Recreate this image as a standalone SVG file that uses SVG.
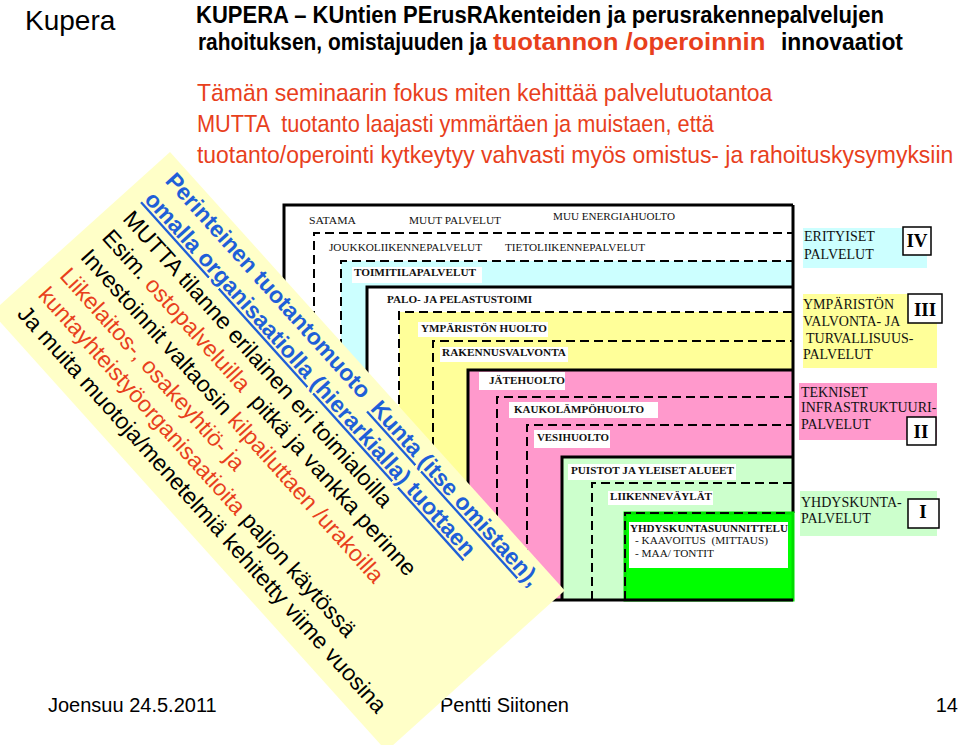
<svg xmlns="http://www.w3.org/2000/svg" width="960" height="745" viewBox="0 0 960 745">
<style>
.solid{fill:none;stroke:#000;stroke-width:3}
.dash{fill:none;stroke:#000;stroke-width:2;stroke-dasharray:9 5}
.lbl{font-family:"Liberation Serif","Times New Roman",serif;font-size:11px;fill:#111}
.b{font-weight:bold}
.wbg{fill:#fff}
.lg{font-family:"Liberation Serif","Times New Roman",serif;font-size:14px;fill:#111}
.rn{font-family:"Liberation Serif","Times New Roman",serif;font-size:19px;font-weight:bold;text-anchor:middle;fill:#000}
.rbox{fill:#fff;stroke:#000;stroke-width:1.5}
.sans{font-family:"Liberation Sans",Arial,Helvetica,sans-serif}
.ttl{font-family:"Liberation Sans",Arial,Helvetica,sans-serif;font-size:24px;font-weight:bold;fill:#000}
.sub{font-family:"Liberation Sans",Arial,Helvetica,sans-serif;font-size:24px;fill:#e8401c}
.bn{font-family:"Liberation Sans",Arial,Helvetica,sans-serif;font-size:23px;fill:#000}
.blue{fill:#1f5fd8;font-weight:bold}
.red{fill:#e8401c}
</style>

<!-- header -->
<g id="header">
<text class="sans" x="25" y="30" font-size="28">Kupera</text>
<text class="ttl" transform="translate(196,23) scale(0.918,1)">KUPERA – KUntien PErusRAkenteiden ja perusrakennepalvelujen</text>
<text class="ttl" transform="translate(198,50) scale(0.87,1)">rahoituksen, omistajuuden ja</text>
<text class="ttl red" transform="translate(493,50) scale(1.07,1)">tuotannon /operoinnin</text>
<text class="ttl" transform="translate(781,50) scale(0.953,1)">innovaatiot</text>
<text class="sub" transform="translate(197,101) scale(0.957,1)">Tämän seminaarin fokus miten kehittää palvelutuotantoa</text>
<text class="sub" transform="translate(197,132) scale(0.9066,1)" xml:space="preserve">MUTTA  tuotanto laajasti ymmärtäen ja muistaen, että</text>
<text class="sub" transform="translate(197,163) scale(0.955,1)">tuotanto/operointi kytkeytyy vahvasti myös omistus- ja rahoituskysymyksiin</text>
</g>

<!-- nested boxes -->
<g id="box-a">
<rect x="284" y="205" width="509" height="395" fill="#fff"/>
<path class="solid" d="M284,600 V205 H793"/>
<text class="lbl" x="309" y="224" textLength="47" lengthAdjust="spacingAndGlyphs">SATAMA</text>
<text class="lbl" x="409" y="224" textLength="92" lengthAdjust="spacingAndGlyphs">MUUT PALVELUT</text>
<text class="lbl" x="553" y="220" textLength="122" lengthAdjust="spacingAndGlyphs">MUU ENERGIAHUOLTO</text>
</g>
<g id="box-b">
<rect x="314" y="233" width="479" height="367" fill="#fff"/>
<path class="dash" d="M314,600 V233 H793"/>
<text class="lbl" x="329" y="251" textLength="153" lengthAdjust="spacingAndGlyphs">JOUKKOLIIKENNEPALVELUT</text>
<text class="lbl" x="505" y="251" textLength="140" lengthAdjust="spacingAndGlyphs">TIETOLIIKENNEPALVELUT</text>
</g>
<g id="box-c">
<rect x="341" y="261" width="452" height="339" fill="#ccffff"/>
<path class="dash" d="M341,600 V261 H793"/>
<rect class="wbg" x="352" y="267" width="130" height="16"/>
<text class="lbl b" x="354" y="276" textLength="122" lengthAdjust="spacingAndGlyphs">TOIMITILAPALVELUT</text>
</g>
<g id="box-d">
<rect x="367" y="287" width="426" height="313" fill="#fff"/>
<path class="solid" d="M367,600 V287 H793"/>
<text class="lbl b" x="387" y="303" textLength="145" lengthAdjust="spacingAndGlyphs">PALO- JA PELASTUSTOIMI</text>
</g>
<g id="box-e">
<rect x="399" y="312" width="394" height="288" fill="#ffff99"/>
<path class="dash" d="M399,600 V312 H793"/>
<rect class="wbg" x="418" y="322" width="130" height="15"/>
<text class="lbl b" x="421" y="332" textLength="126" lengthAdjust="spacingAndGlyphs">YMPÄRISTÖN HUOLTO</text>
</g>
<g id="box-f">
<rect x="433" y="341" width="360" height="259" fill="#ffff99"/>
<path class="dash" d="M433,600 V341 H793"/>
<rect class="wbg" x="440" y="347" width="128" height="15"/>
<text class="lbl b" x="442" y="356" textLength="124" lengthAdjust="spacingAndGlyphs">RAKENNUSVALVONTA</text>
</g>
<g id="box-g">
<rect x="468" y="370" width="325" height="230" fill="#ff99cc"/>
<path class="solid" d="M468,600 V370 H793"/>
<rect class="wbg" x="479" y="372" width="86" height="18"/>
<text class="lbl b" x="489" y="384" textLength="76" lengthAdjust="spacingAndGlyphs">JÄTEHUOLTO</text>
</g>
<g id="box-h">
<rect x="497" y="397" width="296" height="203" fill="#ff99cc"/>
<path class="dash" d="M497,600 V397 H793"/>
<rect class="wbg" x="509" y="402" width="149" height="16"/>
<text class="lbl b" x="514" y="413" textLength="130" lengthAdjust="spacingAndGlyphs">KAUKOLÄMPÖHUOLTO</text>
</g>
<g id="box-i">
<rect x="527" y="425" width="266" height="175" fill="#ff99cc"/>
<path class="dash" d="M527,600 V425 H793"/>
<rect class="wbg" x="534" y="430" width="76" height="18"/>
<text class="lbl b" x="537" y="441" textLength="72" lengthAdjust="spacingAndGlyphs">VESIHUOLTO</text>
</g>
<g id="box-j">
<rect x="562" y="457" width="231" height="143" fill="#ccffcc"/>
<path class="solid" d="M562,600 V457 H793"/>
<rect class="wbg" x="568" y="464" width="168" height="16"/>
<text class="lbl b" x="571" y="474" textLength="163" lengthAdjust="spacingAndGlyphs">PUISTOT JA YLEISET ALUEET</text>
</g>
<g id="box-k">
<rect x="592" y="483" width="201" height="117" fill="#ccffcc"/>
<path class="dash" d="M592,600 V483 H793"/>
<rect class="wbg" x="608" y="491" width="105" height="14"/>
<text class="lbl b" x="610" y="500" textLength="102" lengthAdjust="spacingAndGlyphs">LIIKENNEVÄYLÄT</text>
</g>
<path class="solid" d="M793,205 V513"/>
<g id="box-l">
<rect x="625" y="513" width="168" height="87" fill="#00ff00" stroke="#00dd00" stroke-width="3"/>
<path class="dash" d="M625,600 V513 H790" stroke-width="1.5"/>
<rect class="wbg" x="629" y="522" width="159" height="46"/>
<text class="lbl b" x="630" y="532" textLength="158" lengthAdjust="spacingAndGlyphs">YHDYSKUNTASUUNNITTELU</text>
<text class="lbl" x="635" y="544" textLength="133" lengthAdjust="spacingAndGlyphs" xml:space="preserve">- KAAVOITUS  (MITTAUS)</text>
<text class="lbl" x="635" y="557" textLength="79" lengthAdjust="spacingAndGlyphs">- MAA/ TONTIT</text>
</g>
<path class="solid" d="M284,600 H793"/>

<!-- legend -->
<g id="legend-iv">
<rect x="803" y="228" width="124" height="40" fill="#ccffff"/>
<text class="lg" x="804" y="241">ERITYISET</text>
<text class="lg" x="804" y="259">PALVELUT</text>
<rect class="rbox" x="903" y="227" width="28" height="28"/>
<text class="rn" x="917" y="247">IV</text>
</g>
<g id="legend-iii">
<rect x="803" y="294" width="134" height="74" fill="#ffff99"/>
<text class="lg" x="803" y="309">YMPÄRISTÖN</text>
<text class="lg" x="803" y="326">VALVONTA- JA</text>
<text class="lg" x="806" y="343">TURVALLISUUS-</text>
<text class="lg" x="803" y="359">PALVELUT</text>
<rect class="rbox" x="908" y="294" width="34" height="29"/>
<text class="rn" x="925" y="316">III</text>
</g>
<g id="legend-ii">
<rect x="799" y="383" width="138" height="57" fill="#ff99cc"/>
<text class="lg" x="801" y="397">TEKNISET</text>
<text class="lg" x="801" y="412">INFRASTRUKTUURI-</text>
<text class="lg" x="801" y="429">PALVELUT</text>
<rect class="rbox" x="907" y="417" width="29" height="28"/>
<text class="rn" x="921" y="438">II</text>
</g>
<g id="legend-i">
<rect x="800" y="491" width="137" height="45" fill="#ccffcc"/>
<text class="lg" x="801" y="507">YHDYSKUNTA-</text>
<text class="lg" x="801" y="523">PALVELUT</text>
<rect class="rbox" x="908" y="499" width="31" height="29"/>
<text class="rn" x="923" y="518">I</text>
</g>

<!-- footer (partly covered by the banner) -->
<g id="footer">
<text class="sans" x="48" y="712" font-size="20">Joensuu 24.5.2011</text>
<text class="sans" x="440" y="712" font-size="20">Pentti Siitonen</text>
<text class="sans" x="958" y="712" font-size="20" text-anchor="end">14</text>
</g>

<!-- diagonal banner -->
<g id="banner" transform="translate(170,152) rotate(48)">
<rect x="0" y="0" width="590" height="240" fill="#ffffc8"/>
<text class="bn" x="18" y="24" xml:space="preserve"><tspan class="blue">Perinteinen tuotantomuoto  </tspan><tspan class="blue" text-decoration="underline">Kunta (itse omistaen),</tspan></text>
<text class="bn" x="18" y="52"><tspan class="blue" text-decoration="underline">omalla organisaatiolla (hierarkialla) tuottaen</tspan></text>
<text class="bn" x="18" y="81">MUTTA tilanne erilainen eri toimialoilla</text>
<text class="bn" x="18" y="109" xml:space="preserve">Esim. <tspan class="red">ostopalveluilla</tspan>  pitkä ja vankka perinne</text>
<text class="bn" x="18" y="138">Investoinnit valtaosin <tspan class="red">kilpailuttaen /urakoilla</tspan></text>
<text class="bn red" x="18" y="166">Liikelaitos-, osakeyhtiö- ja</text>
<text class="bn" x="18" y="195"><tspan class="red">kuntayhteistyöorganisaatioita</tspan> paljon käytössä</text>
<text class="bn" x="18" y="223">Ja muita muotoja/menetelmiä kehitetty viime vuosina</text>
</g>
</svg>
